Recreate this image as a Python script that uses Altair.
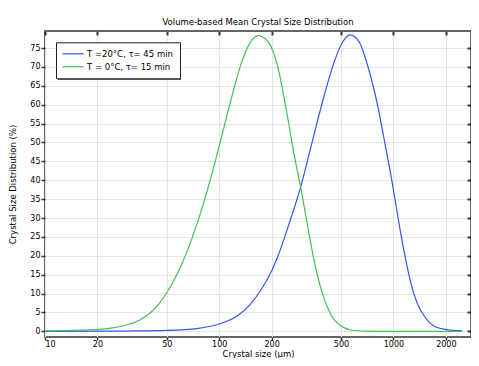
import altair as alt
import pandas as pd

# ---- data ----
series_names = ["T =20°C, τ= 45 min", "T = 0°C, τ= 15 min"]
series_colors = ["#3355ff", "#44c055"]

blue_size = [10, 20, 30, 50, 76, 101, 128, 150, 175, 200, 217, 250, 294, 337, 401,
             458, 511, 565, 637, 710, 810, 902, 975, 1030, 1099, 1175, 1254, 1369,
             1527, 1706, 1987, 2480]
blue_val = [0.0, 0.03, 0.08, 0.25, 0.8, 2.0, 4.2, 7.0, 11.2, 16.0, 19.8, 28.0, 38.3,
            49.0, 62.5, 71.4, 76.6, 78.5, 76.6, 70.5, 60.0, 48.8, 40.5, 34.0, 26.2,
            19.2, 13.1, 7.5, 3.6, 1.4, 0.5, 0.1]

green_size = [10, 13, 16, 20, 25, 30, 35, 40, 45, 50, 55, 61, 70, 80, 90, 100, 118,
              134, 150, 167, 190, 217, 242, 270, 294, 316, 337, 360, 393, 438, 500,
              550, 600, 700, 850, 1000, 1500, 2480]
green_val = [0.1, 0.18, 0.3, 0.5, 1.0, 1.8, 3.0, 4.8, 7.2, 10.2, 13.5, 17.8, 24.8,
             32.8, 41.0, 49.0, 62.0, 71.0, 76.3, 78.3, 76.8, 70.0, 59.0, 46.5, 38.0,
             30.0, 22.8, 16.3, 9.8, 4.4, 1.4, 0.55, 0.22, 0.05, 0.0, 0.0, 0.0, 0.0]

x_ticks = [10, 20, 50, 100, 200, 500, 1000, 2000]
y_ticks = [0, 5, 10, 15, 20, 25, 30, 35, 40, 45, 50, 55, 60, 65, 70, 75]
x_domain = [10, 2790]
y_domain = [-1.5, 79.5]

df = pd.concat([
    pd.DataFrame({"size": blue_size, "value": blue_val, "series": series_names[0]}),
    pd.DataFrame({"size": green_size, "value": green_val, "series": series_names[1]}),
], ignore_index=True)

FONT = "DejaVu Sans"
DARK = "#333333"

xscale = alt.Scale(type="log", domain=x_domain, nice=False)
yscale = alt.Scale(domain=y_domain, nice=False, zero=False)

LEG_X, LEG_Y = 11, 11.3
LEG_W, LEG_H = 123, 35.5

# decorative drop shadow behind the legend box
shadow = alt.Chart(pd.DataFrame({"k": [0]})).mark_rect(color="#3a3a3a").encode(
    x=alt.value(LEG_X + 2), x2=alt.value(LEG_X + 2 + LEG_W),
    y=alt.value(LEG_Y + 2), y2=alt.value(LEG_Y + 2 + LEG_H)
)

lines = alt.Chart(df).mark_line(strokeWidth=1.2, interpolate="monotone", clip=True).encode(
    x=alt.X("size:Q", scale=xscale,
            axis=alt.Axis(values=x_ticks, format="d", title="Crystal size (µm)",
                          domain=False, grid=True, gridColor="#e6e6e6", gridWidth=1,
                          tickSize=3, tickWidth=1.5, tickColor=DARK,
                          labelFontSize=8, labelPadding=0, labelColor="#000",
                          titleFontSize=8.5, titleFontWeight="normal", titleColor="#000",
                          titleBaseline="alphabetic", titleY=19.5)),
    y=alt.Y("value:Q", scale=yscale,
            axis=alt.Axis(values=y_ticks, title="Crystal Size Distribution (%)",
                          domain=False, grid=True, gridColor="#e6e6e6", gridWidth=1,
                          tickSize=4, tickWidth=1.5, tickColor=DARK,
                          labelFontSize=8, labelPadding=1, labelColor="#000",
                          titleFontSize=8.5, titleFontWeight="normal", titleColor="#000",
                          titleX=-28, titleY=153)),
    color=alt.Color("series:N",
                    scale=alt.Scale(domain=series_names, range=series_colors),
                    legend=alt.Legend(orient="none", legendX=LEG_X, legendY=LEG_Y, title=None,
                                      symbolType="M-2.4,0L2.4,0", symbolSize=77,
                                      symbolStrokeWidth=1.2, symbolOffset=5.5,
                                      labelFontSize=8.5, labelFont=FONT, labelColor="#000",
                                      padding=6.5, rowPadding=3, labelOffset=9,
                                      strokeColor="#222222", fillColor="white")),
)

frame = alt.Chart(df).mark_point(opacity=0).encode(
    x=alt.X("size:Q", scale=xscale,
            axis=alt.Axis(orient="top", values=x_ticks, labels=False, domain=False,
                          grid=False, tickSize=4, tickWidth=2, tickColor=DARK,
                          offset=-4, title=None)),
    y=alt.Y("value:Q", scale=yscale,
            axis=alt.Axis(orient="right", values=y_ticks, labels=False, domain=False,
                          grid=False, tickSize=4, tickWidth=2, tickColor=DARK,
                          offset=-4, title=None)),
)

chart = alt.layer(shadow, lines, frame).resolve_axis(x="independent", y="independent").properties(
    width=426, height=306,
    autosize="none",
    padding={"left": 37, "top": 23, "right": 0, "bottom": 21},
    title=alt.Title("Volume-based Mean Crystal Size Distribution", fontSize=8.5,
                    fontWeight="normal", font=FONT, color="#000", offset=4),
).configure(font=FONT).configure_view(stroke=DARK, strokeWidth=1.5)

chart.save("out.html", embed_options={"renderer": "svg", "actions": False})
